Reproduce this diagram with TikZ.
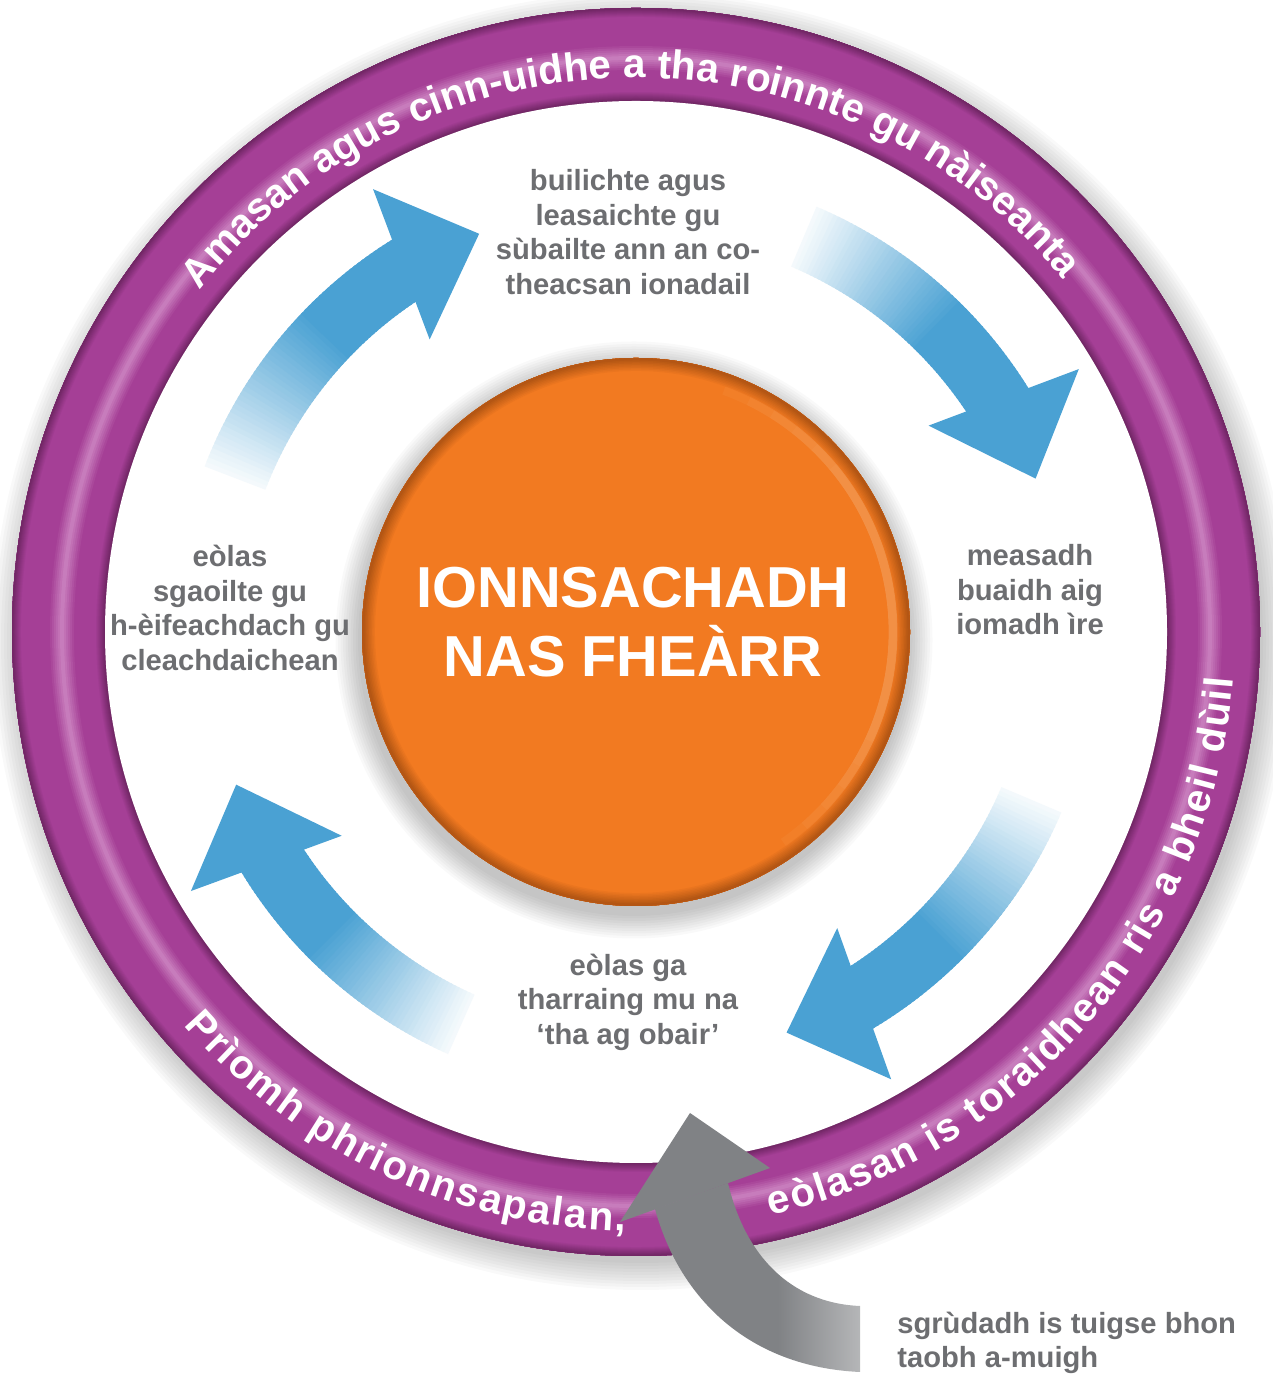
\documentclass[tikz,border=0pt]{standalone}
\usepackage{xcolor}
\usepackage{fontspec}
\setmainfont{Liberation Sans}
\usepackage{tikz}
\usetikzlibrary{calc,decorations.text}
\definecolor{RingPurple}{RGB}{165,63,150}
\definecolor{RingDark}{RGB}{108,36,96}
\definecolor{RingLight}{RGB}{214,150,204}
\definecolor{CoreOrange}{RGB}{242,122,33}
\definecolor{CoreRim}{RGB}{172,82,18}
\definecolor{CoreLight}{RGB}{250,178,120}
\definecolor{CycleBlue}{RGB}{74,161,211}
\definecolor{InputGrey}{RGB}{128,130,133}
\definecolor{NoteGrey}{RGB}{109,110,113}
\colorlet{InputPale}{InputGrey!6!white}
\pgfdeclarehorizontalshading{InputFade}{100bp}{color(0bp)=(InputGrey); color(55bp)=(InputGrey); color(100bp)=(InputPale)}
\newcommand{\notefont}{\fontsize{16.6}{19.6}\selectfont\bfseries}
\newcommand{\corefont}{\fontsize{32.9}{39.7}\selectfont\bfseries}
\newcommand{\ringfont}{\fontsize{23}{28}\selectfont\bfseries}

\begin{document}
\begin{tikzpicture}[
  x=0.02cm,y=0.02cm,
  note/.style={font=\notefont,text=NoteGrey,align=center,inner sep=0pt},
  core/.style={font=\corefont,text=white,align=center,inner sep=0pt},
  ringtext/.style={decorate,decoration={text along path,text align=fit to path,
    text={|\ringfont\color{white}|#1}}},
  ringmid/.style={decorate,decoration={text along path,text align=center,
    text={|\ringfont\color{white}|#1}}}
]
  \useasboundingbox (0,0) rectangle (1273,1375);
  \coordinate (c) at (636,743);

  \foreach \rr in {0,...,9}
    \fill[black,opacity=0.022] ($(c)+(5,-9)$) circle[radius=622+3*\rr];
  \fill[RingPurple] (c) circle[radius=624];
  \begin{scope}
    \clip (c) circle[radius=624];
    \foreach \rr [evaluate=\rr as \wd using (18-2*\rr)*0.567,
                  evaluate=\rr as \pc using int(10+10*\rr)] in {0,...,8}{
      \draw[RingDark!\pc!RingPurple,line width=\wd pt] (c) circle[radius=624];
      \draw[RingDark!\pc!RingPurple,line width=\wd pt] (c) circle[radius=531];
    }
    \foreach \rr [evaluate=\rr as \wd using (24-4*\rr)*0.567,
                  evaluate=\rr as \pc using int(10+12*\rr)] in {0,...,5}
      \draw[RingLight!\pc!RingPurple,line width=\wd pt] (c) circle[radius=574];
  \end{scope}
  \fill[white] (c) circle[radius=531];

  \foreach \aTail/\aBase/\aTip in {159/123/111.5, 67/33/21, -23/-58/-69.4, 246/212.5/200.9}{
    \foreach \nn [evaluate=\nn as \angA using \aTail-(\aTail-\aBase+1.5)*\nn/60,
                  evaluate=\nn as \angB using \aTail-(\aTail-\aBase+1.5)*(\nn+1.5)/60] in {0,...,59}{
      \pgfmathtruncatemacro\pc{min(100,6+94*\nn/36)}
      \fill[CycleBlue!\pc!white] ($(c)+(\angA:462)$) arc[start angle=\angA,end angle=\angB,radius=462]
        -- ($(c)+(\angB:397)$) arc[start angle=\angB,end angle=\angA,radius=397] -- cycle;
    }
    \fill[CycleBlue] ($(c)+(\aBase+2.2:358)$) -- ($(c)+(\aBase-2.3:515)$) -- ($(c)+(\aTip:428)$) -- cycle;
  }

  \foreach \rr in {0,...,9}
    \fill[black,opacity=0.025] ($(c)+(-2,-8)$) circle[radius=276+2.5*\rr];
  \fill[CoreOrange] (c) circle[radius=274];
  \begin{scope}
    \clip (c) circle[radius=274];
    \foreach \rr [evaluate=\rr as \wd using (26-3*\rr)*0.567,
                  evaluate=\rr as \pc using int(12+11*\rr)] in {0,...,7}
      \draw[CoreRim!\pc!CoreOrange,line width=\wd pt] (c) circle[radius=274];
    \foreach \rr [evaluate=\rr as \angA using 70-6*\rr,
                  evaluate=\rr as \angB using -55+6*\rr] in {0,...,5}
      \draw[CoreLight,line width=5pt,opacity=0.09] ($(c)+(\angA:257)$) arc[start angle=\angA,end angle=\angB,radius=257];
  \end{scope}

  \node[core] (core) at (633,753) {IONNSACHADH\\NAS FHEÀRR};
  \node[note] (topnote) at (628,1143) {builichte agus\\leasaichte gu\\sùbailte ann an co-\\theacsan ionadail};
  \node[note] (leftnote) at (230,767) {eòlas\\sgaoilte gu\\h-èifeachdach gu\\cleachdaichean};
  \node[note] (rightnote) at (1030,785) {measadh\\buaidh aig\\iomadh ìre};
  \node[note] (bottomnote) at (628,373) {eòlas ga\\tharraing mu na\\‘tha ag obair’};
  \node[note,align=left,anchor=west] (outnote) at (897,32) {sgrùdadh is tuigse bhon\\taobh a-muigh};

  \path[ringmid={Amasan agus cinn-uidhe a tha roinnte gu nàiseanta}]
    ($(c)+(166:554)$) arc[start angle=166,end angle=15.5,radius=554];
  \path[ringtext={Prìomh phrionnsapalan,}]
    ($(c)+(221:599)$) arc[start angle=221,end angle=269,radius=599];
  \path[ringtext={eòlasan is toraidhean ris a bheil dùil}]
    ($(c)+(283:599)$) arc[start angle=283,end angle=355.5,radius=599];

  \shade[shading=InputFade] (655,166) .. controls (680,75) and (750,8) .. (860,3)
    -- (860,69) .. controls (790,72) and (745,120) .. (728,192) -- cycle;
  \fill[InputGrey] (690,262) -- (620,153) -- (770,207) -- cycle;
\end{tikzpicture}
\end{document}
